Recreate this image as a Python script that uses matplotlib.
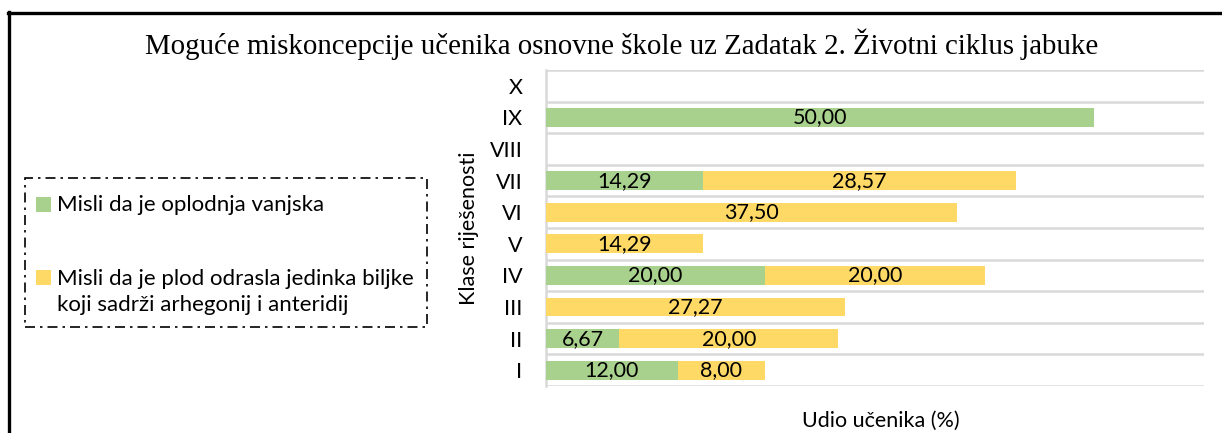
import matplotlib
matplotlib.use("Agg")
import matplotlib.pyplot as plt
from matplotlib.patches import Rectangle
from matplotlib.lines import Line2D
import numpy as np

# Data
categories = ["I", "II", "III", "IV", "V", "VI", "VII", "VIII", "IX", "X"]
oplodnja_vanjska = [12.00, 6.67, 0, 20.00, 0, 0, 14.29, 0, 50.00, 0]
plod_odrasla = [8.00, 20.00, 27.27, 20.00, 14.29, 37.50, 28.57, 0, 0, 0]
legend_green = "Misli da je oplodnja vanjska"
legend_yellow = ["Misli da je plod odrasla jedinka biljke",
                 "koji sadrži arhegonij i anteridij"]

title = "Moguće miskoncepcije učenika osnovne škole uz Zadatak 2. Životni ciklus jabuke"
xlabel = "Udio učenika (%)"
ylabel = "Klase riješenosti"

GREEN = "#A9D18E"
YELLOW = "#FFD966"
GRID = "#D9D9D9"
SANS = ["Lato", "DejaVu Sans"]
SERIF = ["Liberation Serif", "DejaVu Serif"]
FS = 15.5
FS_LEG = 16

W, H = 1222, 433
fig = plt.figure(figsize=(W / 100, H / 100), dpi=100)

def fx(px):
    return px / W

def fy(py):
    return 1 - py / H

ax = fig.add_axes([fx(546), fy(386), fx(1204) - fx(546), fy(70) - fy(386)])

y = np.arange(len(categories))
g = ax.barh(y, oplodnja_vanjska, height=0.6, color=GREEN, zorder=3)
yb = ax.barh(y, plod_odrasla, left=oplodnja_vanjska, height=0.6, color=YELLOW, zorder=3)

def fmt(v):
    return f"{v:.2f}".replace(".", ",")

for bars, vals in ((g, oplodnja_vanjska), (yb, plod_odrasla)):
    for rect, v in zip(bars, vals):
        if v > 0:
            ax.text(rect.get_x() + rect.get_width() / 2, rect.get_y() + rect.get_height() / 2,
                    fmt(v), ha="center", va="center", fontsize=FS, family=SANS,
                    color="black", zorder=4)

ax.set_xlim(0, 60)
ax.set_ylim(-0.5, len(categories) - 0.5)
ax.set_yticks(y)
ax.set_yticklabels(categories, family=SANS, fontsize=FS)
ax.set_yticks(np.arange(-0.5, len(categories)), minor=True)
ax.tick_params(axis="y", which="both", length=0, pad=17)
ax.set_xticks([])
ax.grid(which="minor", axis="y", color=GRID, lw=1.8, zorder=0)
for s in ("top", "right", "bottom"):
    ax.spines[s].set_visible(False)
ax.spines["left"].set_color(GRID)
ax.spines["left"].set_linewidth(1.8)

fig.text(fx(622), fy(44), title, ha="center", va="center", fontsize=20.8, family=SERIF)
fig.text(fx(881), fy(421), xlabel, ha="center", va="center", fontsize=FS, family=SANS)
fig.text(fx(469), fy(228), ylabel, ha="center", va="center", fontsize=FS, family=SANS,
         rotation=90)

# Legend box
fig.patches.append(Rectangle((fx(25), fy(327)), fx(427) - fx(25), fy(178) - fy(327),
                             transform=fig.transFigure, fill=False, edgecolor="black",
                             lw=1.2, linestyle=(0, (6, 3, 1.5, 3))))
fig.patches.append(Rectangle((fx(36), fy(212)), fx(15), fy(0) - fy(15),
                             transform=fig.transFigure, facecolor=GREEN, edgecolor="none"))
fig.patches.append(Rectangle((fx(36), fy(285)), fx(15), fy(0) - fy(15),
                             transform=fig.transFigure, facecolor=YELLOW, edgecolor="none"))
fig.text(fx(57), fy(211), legend_green, ha="left", va="baseline", fontsize=FS_LEG, family=SANS)
fig.text(fx(57), fy(285), legend_yellow[0], ha="left", va="baseline", fontsize=FS_LEG, family=SANS)
fig.text(fx(57), fy(311), legend_yellow[1], ha="left", va="baseline", fontsize=FS_LEG, family=SANS)

# Frame lines along top and left edges
fig.add_artist(Line2D([fx(8), 1], [fy(13), fy(13)], transform=fig.transFigure,
                      color="black", lw=2.4))
fig.add_artist(Line2D([fx(9), fx(9)], [0, fy(12)], transform=fig.transFigure,
                      color="black", lw=2.4))

fig.savefig("out.png", dpi=100)
